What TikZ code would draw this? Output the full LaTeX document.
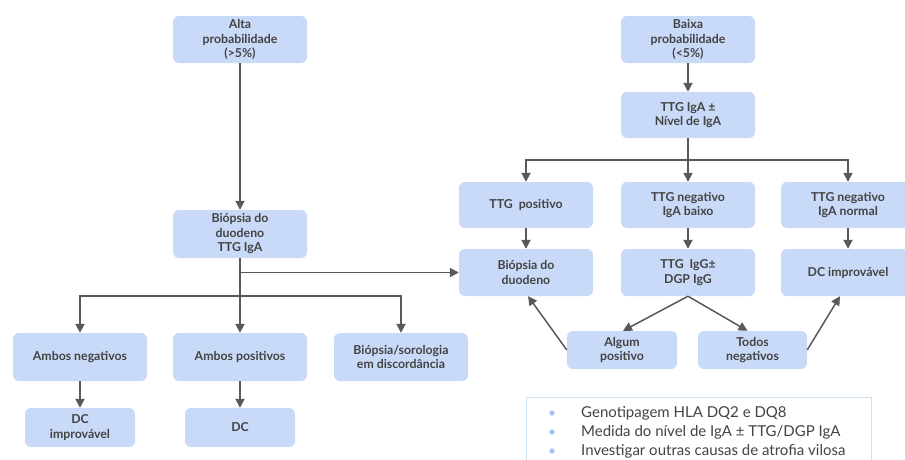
\documentclass[tikz,border=0pt]{standalone}
\usepackage{fontspec}
\setmainfont{Lato}[BoldFont={Lato Bold}]
\usetikzlibrary{arrows.meta}
\definecolor{boxfill}{HTML}{C9DAF8}
\definecolor{txt}{HTML}{434343}
\definecolor{arr}{HTML}{595959}
\definecolor{legborder}{HTML}{CFE2F3}
\definecolor{bul}{HTML}{A4C2F4}
\begin{document}
\begin{tikzpicture}[x=1pt,y=-1pt,
  box/.style={fill=boxfill, rounded corners=6pt, align=center, text=txt,
    font=\bfseries\fontsize{12.3}{14.5}\selectfont, inner sep=0pt},
  conn/.style={draw=arr, line width=1.8pt, -{Triangle[length=9pt,width=9pt]}},
  plain/.style={draw=arr, line width=1.8pt}]
\useasboundingbox (0,0) rectangle (905,459);
\fill[white] (0,0) rectangle (905,459);
% left column
\node[box, minimum width=134pt, minimum height=47pt] (alta) at (240,39.5) {Alta\\probabilidade\\(>5\%)};
\node[box, minimum width=134pt, minimum height=48pt] (bio1) at (240,234) {Biópsia do\\duodeno\\TTG IgA};
\node[box, minimum width=134pt, minimum height=48pt] (ambneg) at (80,357) {Ambos negativos};
\node[box, minimum width=134pt, minimum height=48pt] (ambpos) at (240,357) {Ambos positivos};
\node[box, minimum width=134pt, minimum height=48pt] (disc) at (401,357) {Biópsia/sorologia\\em discordância};
\node[box, minimum width=110pt, minimum height=39pt] (dcimp1) at (80,427.5) {DC\\improvável};
\node[box, minimum width=110pt, minimum height=39pt] (dc) at (240,427.5) {DC};
% right column
\node[box, minimum width=134pt, minimum height=47pt] (baixa) at (688,39.5) {Baixa\\probabilidade\\(<5\%)};
\node[box, minimum width=134pt, minimum height=46pt] (ttgiga) at (688,115) {TTG IgA ±\\Nível de IgA};
\node[box, minimum width=134pt, minimum height=46pt] (ttgpos) at (526,205) {TTG\ \ positivo};
\node[box, minimum width=134pt, minimum height=46pt] (ttgneg1) at (688,205) {TTG negativo\\IgA baixo};
\node[box, minimum width=134pt, minimum height=46pt] (ttgneg2) at (848,205) {TTG negativo\\IgA normal};
\node[box, minimum width=134pt, minimum height=47pt] (bio2) at (526,272.5) {Biópsia do\\duodeno};
\node[box, minimum width=134pt, minimum height=47pt] (ttgigg) at (688,272.5) {TTG\ \ IgG±\\DGP IgG};
\node[box, minimum width=134pt, minimum height=47pt] (dcimp2) at (848,272.5) {DC improvável};
\node[box, minimum width=110pt, minimum height=38pt] (algum) at (622,350) {Algum\\positivo};
\node[box, minimum width=109pt, minimum height=38pt] (todos) at (752.5,350) {Todos\\negativos};
% legend
\node[draw=legborder, line width=1pt, fill=white, minimum width=345pt, minimum height=80pt, inner sep=0pt] (leg) at (698.5,437) {};
\coordinate (l1) at (581,413);
\coordinate (l2) at (581,432);
\coordinate (l3) at (581,451);
\foreach \c/\t in {l1/{Genotipagem HLA DQ2 e DQ8}, l2/{Medida do nível de IgA ± TTG/DGP IgA}, l3/{Investigar outras causas de atrofia vilosa}}{
  \fill[bul] ([xshift=-29pt]\c) circle (2.6pt);
  \node[anchor=west, inner sep=0pt, text=txt, font=\fontsize{15}{18}\selectfont] at (\c) {\t};
}
% connectors left
\coordinate (br1) at (240,296);
\draw[conn] (alta) -- (bio1);
\draw[plain] (bio1.south) -- (br1);
\draw[conn] (br1) -- (ambpos.north);
\draw[conn] (br1) -| (ambneg.north);
\draw[conn] (br1) -| (disc.north);
\draw[conn] (bio1.south |- bio2.west) -- (bio2.west);
\draw[conn] (ambneg) -- (dcimp1);
\draw[conn] (ambpos) -- (dc);
% connectors right
\coordinate (br2) at (688,160);
\draw[conn] (baixa) -- (ttgiga);
\draw[plain] (ttgiga.south) -- (br2);
\draw[conn] (br2) -- (ttgneg1.north);
\draw[conn] (br2) -| (ttgpos.north);
\draw[conn] (br2) -| (ttgneg2.north);
\draw[conn] (ttgpos) -- (bio2);
\draw[conn] (ttgneg1) -- (ttgigg);
\draw[conn] (ttgneg2) -- (dcimp2);
\draw[conn, line width=1.5pt] (ttgigg.south) -- ([xshift=1pt]algum.north);
\draw[conn, line width=1.5pt] (ttgigg.south) -- ([xshift=-5pt]todos.north);
\draw[conn, line width=1.5pt] (algum.west) -- ([xshift=2pt]bio2.south);
\draw[conn, line width=1.5pt] (todos.east) -- ([xshift=-8pt]dcimp2.south);
\end{tikzpicture}
\end{document}
